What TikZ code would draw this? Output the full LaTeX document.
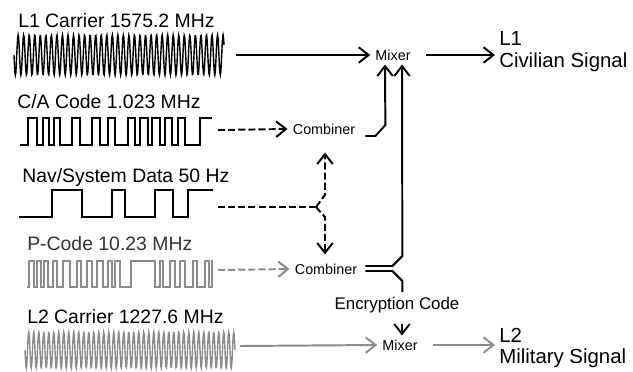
\documentclass[tikz,border=0pt]{standalone}
\usepackage{fontspec}
\setmainfont{Liberation Sans}
\usetikzlibrary{arrows.meta,calc}
\colorlet{pcol}{black!45}

\begin{document}
\begin{tikzpicture}[x=0.025cm, y=-0.025cm, >={Straight Barb[length=7pt,width=11pt]}]
    \tikzset{
        lbl/.style={font=\fontsize{13.8}{16}\selectfont, anchor=base west, inner sep=0},
        stage/.style={font=\fontsize{10.2}{12}\selectfont, inner xsep=0.125cm, inner ysep=0.1cm},
        outsig/.style={font=\fontsize{14.5}{15.6}\selectfont, align=left, anchor=west, inner sep=0.1cm},
        wire/.style={line width=1.4pt},
        dwire/.style={line width=1.4pt, dash pattern=on 5pt off 2.2pt},
        wave/.style={line width=1pt},
        sqwave/.style={line width=1.3pt}
    }
    \useasboundingbox (0,0) rectangle (633,371);

    % signal labels
    \node[lbl] (l1lbl) at (18,27) {L1 Carrier 1575.2 MHz};
    \node[lbl] (calbl) at (17,108) {C/A Code 1.023 MHz};
    \node[lbl] (navlbl) at (22,182) {Nav/System Data 50 Hz};
    \node[lbl, black!80] (plbl) at (27,250) {P-Code 10.23 MHz};
    \node[lbl] (l2lbl) at (27,323) {L2 Carrier 1227.6 MHz};

    % waveforms
    \draw[wave] plot[domain=14:224, samples=460] (\x, {55+20*sin((\x-14)*65)});
    \draw[sqwave] (20,145) \foreach \x/\y in {28/118, 37/145, 43/118, 49/145, 54/118, 60/145,
        72/118, 80/145, 92/118, 100/145, 108/118, 115/145, 128/118, 135/145, 140/118, 148/145,
        152/118, 160/145, 165/118, 172/145, 178/118, 185/145, 200/118} { -| (\x,\y) } -- (212,118);
    \draw[sqwave] (19,217) \foreach \x/\y in {52/190, 82/217, 112/190, 125/217, 155/190,
        173/217, 188/190} { -| (\x,\y) } -- (213,190);
    \draw[sqwave, pcol] (27,287) \foreach \x/\y in {29/261, 34/287, 37/261, 41/287, 44/261,
        48/287, 53/261, 57/287, 63/261, 70/287, 77/261, 81/287, 87/261, 92/287, 97/261, 103/287,
        108/261, 112/287, 115/261, 120/287, 131/261, 155/287, 160/261, 163/287, 170/261, 175/287,
        180/261, 185/287, 193/261, 197/287, 205/261, 209/287, 212/261} { -| (\x,\y) } -- (213,261);
    \draw[wave, pcol] plot[domain=25:235, samples=500] (\x, {350+18*sin((\x-25)*72)});

    \coordinate (l1out) at (236,55);
    \coordinate (caout) at (218,130);
    \coordinate (navout) at (218,207);
    \coordinate (navfork) at (316,207);
    \coordinate (pout) at (218,270);
    \coordinate (l2out) at (240,346);

    % mixers and combiners
    \node[stage] (mixA) at (393,55) {Mixer};
    \node[stage] (combA) at (324,129) {Combiner};
    \node[stage] (combB) at (326,269) {Combiner};
    \node[stage] (mixB) at (400,345) {Mixer};
    \node[font=\fontsize{12}{14}\selectfont, inner sep=0] (enc) at (397,305) {Encryption Code};
    \node[outsig] (l1sig) at (495,52) {L1\\Civilian Signal};
    \node[outsig] (l2sig) at (495,348) {L2\\Military Signal};

    % connections
    \draw[wire, ->] (l1out) -- (mixA.west);
    \draw[wire, ->, shorten <=0.25cm] (mixA.east) -- (mixA -| l1sig.west);
    \draw[dwire, ->] (caout) -- (combA.west);
    \draw[wire, ->] ($(combA.east)+(5,7)$) -- ++(10,0) -- ++(10,-11) -- ($(mixA.south)+(-8,0)$);
    \draw[dwire] (navout) -- (navfork);
    \draw[dwire, ->] (navfork) -- ++(9,-12) -- ($(combA.south)+(1,14)$);
    \draw[dwire, ->] (navfork) -- ++(9,10) -- ($(combB.north)+(-1,-5)$);
    \draw[dwire, pcol, ->] (pout) -- (combB.west);
    \draw[wire, ->] ($(combB.east)+(3,-3)$) -- ++(27,0) -- ++(10,-10) -- ($(mixA.south)+(9,0)$);
    \draw[wire] ($(combB.east)+(3,2)$) -- ++(27,0) -- ++(10,10) -- ++(0,11);
    \draw[wire, ->] ($(enc.south)+(5,11)$) -- ($(mixB.north)+(2,0)$);
    \draw[wire, pcol, ->] (l2out) -- (mixB.west);
    \draw[wire, pcol, ->, shorten <=0.25cm] (mixB.east) -- (mixB -| l2sig.west);
\end{tikzpicture}
\end{document}
